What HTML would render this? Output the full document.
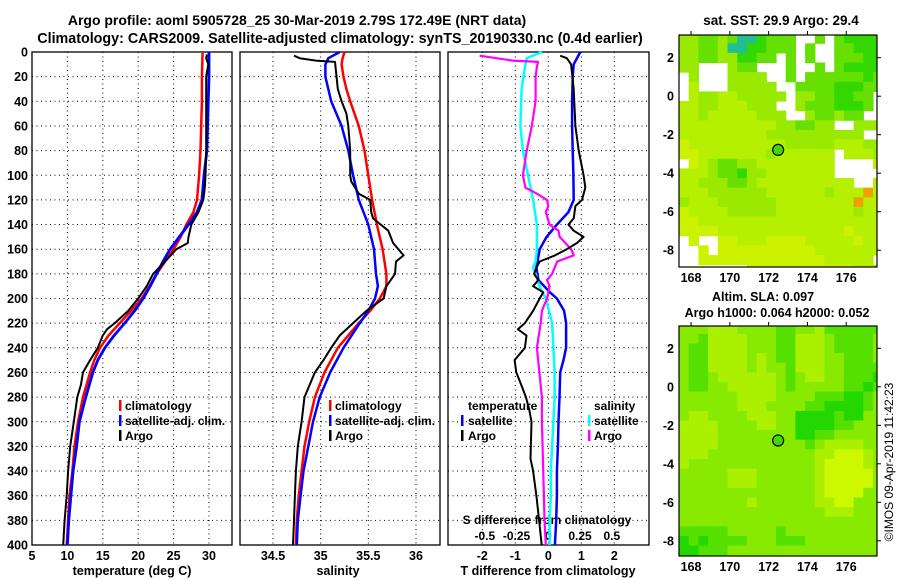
<!DOCTYPE html>
<html><head><meta charset="utf-8">
<style>
html,body{margin:0;padding:0;background:#fff;}
svg{display:block;font-family:"Liberation Sans",Arial,sans-serif;font-weight:bold;}
</style></head>
<body>
<svg id="fig" width="900" height="580" viewBox="0 0 900 580" xmlns="http://www.w3.org/2000/svg">
<defs>
<clipPath id="clipMap1"><rect x="679" y="35" width="198" height="232"/></clipPath>
<clipPath id="clipMap2"><rect x="679" y="326" width="198" height="230"/></clipPath>
</defs>
<text x="297" y="25" font-size="14" text-anchor="middle">Argo profile: aoml 5905728_25 30-Mar-2019 2.79S 172.49E (NRT data)</text>
<text x="340" y="43" font-size="14.3" text-anchor="middle">Climatology: CARS2009. Satellite-adjusted climatology: synTS_20190330.nc (0.4d earlier)</text>
<text x="781" y="25" font-size="13.5" text-anchor="middle">sat. SST: 29.9 Argo: 29.4</text>
<text x="763" y="301" font-size="12.5" text-anchor="middle">Altim. SLA: 0.097</text>
<text x="777" y="317" font-size="12.5" text-anchor="middle">Argo h1000: 0.064 h2000: 0.052</text>
<text x="0" y="0" font-size="12" font-weight="normal" text-anchor="middle" transform="translate(893,462) rotate(-90)">©IMOS 09-Apr-2019 11:42:23</text>
<g id="layer"></g>
</svg>
<script>
// ---------- data ----------
const depthTicks = [0,20,40,60,80,100,120,140,160,180,200,220,240,260,280,300,320,340,360,380,400];
const tempTicks = [5,10,15,20,25,30];
const salTicks = [34.5,35,35.5,36];
const salTickLabels = ["34.5","35","35.5","36"];
const tdiffTicks = [-2,-1,0,1,2];
const sdiffTicks = [-0.5,-0.25,0,0.25,0.5];
const sdiffTickLabels = ["-0.5","-0.25","0","0.25","0.5"];

const tempClimDepth = [0,20,40,60,80,100,120,130,140,150,160,170,180,190,200,210,220,230,240,250,260,280,300,320,340,360,380,400];
const tempClim = [29.1,29.0,29.0,28.9,28.8,28.6,28.3,27.8,26.8,26.0,25.0,23.8,22.6,21.6,20.5,19.0,17.4,15.8,14.6,13.8,13.2,12.2,11.5,11.0,10.7,10.3,10.1,9.9];
const tempSat = [30.0,30.0,29.9,29.8,29.7,29.3,29.0,28.3,27.1,25.8,24.5,23.5,22.6,21.7,20.7,19.5,18.1,16.6,15.3,14.3,13.6,12.6,11.7,11.3,10.8,10.5,10.2,10.0];
const tempArgoDepth = [2,5,10,20,40,60,80,100,110,120,130,140,150,155,160,170,180,190,200,210,220,225,230,240,250,260,270,280,300,320,340,360,380,400];
const tempArgo = [29.7,29.6,29.9,29.6,29.6,29.6,29.6,29.5,29.4,29.2,28.5,27.5,27.1,27.0,25.4,23.8,22.1,21.2,20.0,18.6,16.7,15.6,15.0,14.3,13.2,12.2,11.9,11.4,10.9,10.4,10.1,9.9,9.6,9.4];

const salClimDepth = [0,5,10,20,30,40,60,80,100,120,140,160,180,190,200,210,220,240,260,280,300,320,340,360,380,400];
const salClim = [35.25,35.23,35.22,35.24,35.27,35.31,35.4,35.46,35.5,35.54,35.59,35.65,35.69,35.69,35.62,35.52,35.4,35.18,35.04,34.94,34.88,34.83,34.8,34.77,34.75,34.74];
const salSat = [35.2,35.08,35.05,35.05,35.08,35.11,35.22,35.29,35.34,35.4,35.5,35.56,35.58,35.6,35.57,35.5,35.41,35.24,35.1,34.99,34.92,34.87,34.82,34.79,34.76,34.75];
const salArgoDepth = [3,5,7,8,15,30,40,50,60,80,100,105,115,120,130,135,145,155,165,170,180,190,200,210,220,230,240,250,260,280,300,320,340,360,380,400];
const salArgo = [34.72,34.78,34.95,35.15,35.16,35.18,35.22,35.27,35.29,35.31,35.31,35.32,35.4,35.52,35.53,35.55,35.71,35.76,35.87,35.79,35.78,35.69,35.66,35.48,35.34,35.2,35.11,35.03,34.94,34.83,34.8,34.76,34.74,34.73,34.72,34.71];

const tdSatDepth = [0,10,20,40,60,80,100,120,130,140,150,160,175,185,195,200,210,220,240,250,260,280,300,320,340,360,380,400];
const tdSat = [0.97,0.77,0.74,0.72,0.72,0.74,0.76,0.77,0.61,0.26,-0.05,-0.26,-0.36,-0.3,0.05,0.26,0.48,0.54,0.54,0.46,0.36,0.34,0.31,0.29,0.26,0.26,0.24,0.2];
const tdArgoDepth = [3,5,10,30,60,80,100,110,120,125,135,140,145,150,155,160,165,170,175,180,185,190,195,200,210,220,225,230,240,250,260,270,280,290,300,330,340,360,380,400];
const tdArgo = [0.36,0.56,0.69,0.77,0.82,0.92,1.07,1.12,1.02,0.82,0.77,0.61,0.77,1.07,0.87,0.56,0.2,-0.26,-0.36,-0.43,-0.3,-0.46,-0.15,-0.26,-0.46,-0.71,-0.92,-0.66,-0.71,-1.02,-0.97,-0.82,-0.68,-0.58,-0.51,-0.54,-0.46,-0.36,-0.28,-0.2];
const sdSatDepth = [0,5,10,30,60,80,100,120,140,160,170,175,180,190,200,220,240,260,280,300,320,340,360,380,400];
const sdSat = [-0.05,-0.17,-0.18,-0.21,-0.22,-0.2,-0.16,-0.12,-0.09,-0.09,-0.1,-0.12,-0.1,-0.07,-0.02,0.03,0.04,0.05,0.05,0.04,0.03,0.02,0.02,0.01,0.01];
const sdArgoDepth = [3,7,8,12,20,40,60,80,100,110,115,120,125,130,140,145,150,160,165,170,175,180,185,190,200,210,220,240,260,280,300,320,340,360,380,400];
const sdArgo = [-0.54,-0.28,-0.08,-0.09,-0.1,-0.1,-0.13,-0.17,-0.2,-0.18,-0.09,-0.01,0.0,-0.02,0.01,0.08,0.09,0.18,0.2,0.07,0.05,0.03,-0.01,0.01,-0.01,-0.05,-0.06,-0.09,-0.07,-0.05,-0.05,-0.045,-0.04,-0.035,-0.03,-0.02];

const lonTicks = [168,170,172,174,176];
const latTicks = [2,0,-2,-4,-6,-8];
const argoLon = 172.49, argoLat = -2.79;
const sstGrid = [
"221121cc0111ww1w10000",
"22112cc00111w1ww11000",
"2211220011w1w1ww11100",
"22www211www1ww1w10000",
"w2www2222ww1w11111101",
"w3www22222ww111100011",
"w3223322222w22110011w",
"3322333222ww21110001w",
"33233333222ww211211ww",
"3333333333221122ww222",
"3333333332222222222ww",
"433333333332222233322",
"4433333332333333w3332",
"w432112233333333wwww3",
"3332110223333333wwwww",
"332221123333333333ww3",
"3332222223333332333o3",
"233322222233333333o33",
"433332222233333333233",
"443333333333333333333",
"444433333333333334333",
"w4ww44333444433333433",
"ww4w44444444443333333",
"ww444444444444433333w",
"wwwwwww44444444444333"];
const slaGrid = [
"222333222211223111111",
"221333322211333211112",
"211333322211333211112",
"211333323211333221112",
"211333323221333221111",
"21123333332123322111g",
"2112233333212222211g1",
"22222233332222111gg12",
"222222333222211gggg12",
"233222233322gggg1gg22",
"333322223322gggg11222",
"333322222222gg1122222",
"333322222222212333322",
"333222222222223344432",
"322222222222223444432",
"222223332222223444442",
"222223332222223444442",
"222222222222223444422",
"222222232222223344222",
"222222222222222333222",
"222222222222222222222",
"111112222212222222222",
"g1g111122211122222222",
"gg1112222222222222222",
"gg1112222222222222222"];

// ---------- helpers ----------
const NS = "http://www.w3.org/2000/svg";
const layer = document.getElementById("layer");
function mk(tag, attrs, parent){
  const e = document.createElementNS(NS, tag);
  for (const k in attrs) e.setAttribute(k, attrs[k]);
  (parent||layer).appendChild(e);
  return e;
}
const TOP = 52, BOT = 545;
const yD = d => TOP + (BOT-TOP)*d/400;

const panels = [
  {name:"temperature", x0:32, x1:232},
  {name:"salinity", x0:240, x1:440},
  {name:"difference", x0:448, x1:649}
];
const xT = v => 32 + (v-5)*7.08;
const xS = v => 273 + (v-34.5)*95.33;
const xTd = v => 548.3 + v*33;
const xSd = v => 548.3 + v*127;

function frame(p, key){
  const r = mk("rect",{x:p.x0,y:TOP,width:p.x1-p.x0,height:BOT-TOP,fill:"#fff",stroke:"#000","stroke-width":1.3});
  
  
  depthTicks.forEach(d=>{
    if(d===0||d===400) return;
    const g = mk("line",{x1:p.x0,x2:p.x1,y1:yD(d),y2:yD(d),stroke:"#000","stroke-width":1,"stroke-dasharray":"1,3.5"});
    
    
  });
}
function vgrid(x, key){
  const g = mk("line",{x1:x,x2:x,y1:TOP,y2:BOT,stroke:"#000","stroke-width":1,"stroke-dasharray":"1,3.5"});
  
  
}
function label(x,y,txt,anchor,size,name){
  const t = mk("text",{x:x,y:y,"font-size":size||12,"text-anchor":anchor||"middle"});
  t.textContent = txt;
  
  
  return t;
}
function line(depths, vals, xf, color, w, name){
  const pts = depths.map((d,i)=>xf(vals[i]).toFixed(1)+","+yD(d).toFixed(1)).join(" ");
  const pl = mk("polyline",{points:pts,fill:"none",stroke:color,"stroke-width":w,"stroke-linejoin":"round"});
  
  
}
function legendBar(x,y,color,name){
  const b = mk("rect",{x:x,y:y-10,width:2.5,height:11,fill:color});
  
  
}

// ---------- panel 1: temperature ----------
frame(panels[0],"temperature");
tempTicks.forEach(v=>{ if(v>5) vgrid(xT(v),"temperature"); });
depthTicks.forEach(d=>{ label(28, yD(d)+4.5, String(d), "end", 12.5, "depth-tick-label"); });
tempTicks.forEach(v=>{ label(xT(v), 560, String(v), "middle", 12.5, "temperature-tick-label"); });
label(132, 575, "temperature (deg C)", "middle", 12.5, "temperature-axis-title");
line(tempClimDepth, tempClim, xT, "#ff0000", 2.5, "temperature-climatology-line");
line(tempClimDepth, tempSat, xT, "#0000ff", 2.8, "temperature-satellite-line");
line(tempArgoDepth, tempArgo, xT, "#000000", 2, "temperature-argo-line");
legendBar(119,410,"#ff0000","legend-climatology-swatch");
label(125,410,"climatology","start",12,"legend-climatology-label");
legendBar(119,425,"#0000ff","legend-satellite-swatch");
label(125,425,"satellite-adj. clim.","start",12,"legend-satellite-label");
legendBar(119,440,"#000000","legend-argo-swatch");
label(125,440,"Argo","start",12,"legend-argo-label");

// ---------- panel 2: salinity ----------
frame(panels[1],"salinity");
salTicks.forEach(v=>vgrid(xS(v),"salinity"));
salTicks.forEach((v,i)=>label(xS(v),560,salTickLabels[i],"middle",12.5,"salinity-tick-label"));
label(338,575,"salinity","middle",12.5,"salinity-axis-title");
line(salClimDepth, salClim, xS, "#ff0000", 2.5, "salinity-climatology-line");
line(salClimDepth, salSat, xS, "#0000ff", 2.5, "salinity-satellite-line");
line(salArgoDepth, salArgo, xS, "#000000", 2, "salinity-argo-line");
legendBar(329,410,"#ff0000","legend-climatology-swatch-2");
label(335,410,"climatology","start",12,"legend-climatology-label-2");
legendBar(329,425,"#0000ff","legend-satellite-swatch-2");
label(335,425,"satellite-adj. clim.","start",12,"legend-satellite-label-2");
legendBar(329,440,"#000000","legend-argo-swatch-2");
label(335,440,"Argo","start",12,"legend-argo-label-2");

// ---------- panel 3: differences ----------
frame(panels[2],"difference");
tdiffTicks.forEach(v=>vgrid(xTd(v),"difference"));
tdiffTicks.forEach(v=>label(xTd(v),560,String(v),"middle",12.5,"t-difference-tick-label"));
label(548,575,"T difference from climatology","middle",12.5,"t-difference-axis-title");
label(547,524,"S difference from climatology","middle",12,"s-difference-axis-title");
sdiffTicks.forEach((v,i)=>label(xSd(v),540,sdiffTickLabels[i],"middle",12,"s-difference-tick-label"));
line(tdSatDepth, tdSat, xTd, "#0000ff", 2.5, "t-difference-satellite-line");
line(sdSatDepth, sdSat, xSd, "#00ffff", 2.5, "s-difference-satellite-line");
line(sdArgoDepth, sdArgo, xSd, "#ff00ff", 2.2, "s-difference-argo-line");
line(tdArgoDepth, tdArgo, xTd, "#000000", 2, "t-difference-argo-line");
label(468,410,"temperature","start",12,"legend-temperature-heading");
legendBar(461,425,"#0000ff","legend-t-satellite-swatch");
label(468,425,"satellite","start",12,"legend-t-satellite-label");
legendBar(461,440,"#000000","legend-t-argo-swatch");
label(468,440,"Argo","start",12,"legend-t-argo-label");
label(594,410,"salinity","start",12,"legend-salinity-heading");
legendBar(588,425,"#00ffff","legend-s-satellite-swatch");
label(594,425,"satellite","start",12,"legend-s-satellite-label");
legendBar(588,440,"#ff00ff","legend-s-argo-swatch");
label(594,440,"Argo","start",12,"legend-s-argo-label");

// ---------- maps ----------
const palSST = {"0":"#33d800","1":"#66e000","2":"#99ea00","3":"#b4f000","4":"#ccf200","c":"#20c090","o":"#f0a000","w":"#ffffff"};
const palSLA = {"g":"#22d800","1":"#55e000","2":"#88ea00","3":"#aaf000","4":"#ccf800"};
const LON0 = 167.38, PXLON = 19.4;
function drawMap(grid, pal, top, bot, lat2y, clip, key){
  const xL = lon => 679 + (lon-LON0)*PXLON;
  const yL = lat => lat2y + (2-lat)*19.25;
  const g = mk("g",{"clip-path":"url(#"+clip+")"});
  
  
  grid.forEach((row,i)=>{
    const latTop = 3.25 - 0.5*i;
    for(let j=0;j<row.length;j++){
      const c = row[j];
      if(c==="w") continue;
      const lon = LON0 + 0.5*j;
      const cell = mk("rect",{x:xL(lon).toFixed(1),y:yL(latTop).toFixed(1),width:(0.5*PXLON+0.6).toFixed(1),height:(0.5*19.25+0.6).toFixed(1),fill:pal[c]},g);
      
      
    }
  });
  const fr = mk("rect",{x:679,y:top,width:198,height:bot-top,fill:"none",stroke:"#000","stroke-width":1.2});
  
  
  lonTicks.forEach(l=>{
    const tk = mk("line",{x1:xL(l),x2:xL(l),y1:top-4,y2:top,stroke:"#000"});
    
    
    label(xL(l), bot+15, String(l), "middle", 12.5, key+"-lon-tick-label");
  });
  latTicks.forEach(l=>{
    const tk = mk("line",{x1:877,x2:881,y1:yL(l),y2:yL(l),stroke:"#000"});
    
    
    label(674, yL(l)+4.5, String(l), "end", 12.5, key+"-lat-tick-label");
  });
  const c = mk("circle",{cx:xL(argoLon),cy:yL(argoLat),r:5.5,fill:"#44d800",stroke:"#000","stroke-width":1.2});
  
  
}
drawMap(sstGrid, palSST, 35, 267, 57.7, "clipMap1", "sst-map");
drawMap(slaGrid, palSLA, 326, 556, 348.3, "clipMap2", "sla-map");
</script>
</body></html>
